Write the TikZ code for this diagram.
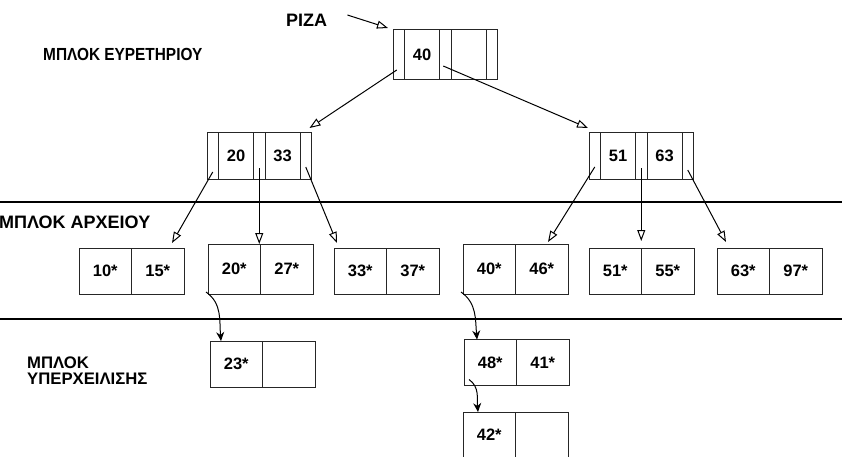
\documentclass[tikz,border=0pt]{standalone}
\usepackage{fontspec}
\setmainfont{Liberation Sans}
\usetikzlibrary{positioning,calc,arrows.meta}

\begin{document}
\begin{tikzpicture}
		[x=1pt, y=1pt,
		 cell/.style={draw=black!85, line width=1pt, outer sep=0pt, inner sep=0pt,
		   font=\fontsize{16.5}{18}\selectfont\bfseries},
		 ptr/.style={cell, minimum width=11.5pt, minimum height=46pt},
		 key/.style={cell, minimum width=35pt, minimum height=46pt},
		 slot/.style={cell, minimum width=52.5pt, minimum height=46pt},
		 tall/.style={minimum height=50pt},
		 blocktext/.style={font=\fontsize{16}{16}\selectfont\bfseries, inner sep=0pt},
		 tree/.style={-{Triangle[open, length=11pt, width=8pt]}, line width=1pt},
		 chain/.style={-{Stealth[length=9pt, width=8pt, inset=3pt]}, line width=1pt}]
		\useasboundingbox (0,0) rectangle (842,-457);

		% root
		\node[ptr, tall] (r0) at (398.75,-55) {};
		\node[key, tall, right=0pt of r0] (r1) {40};
		\node[ptr, tall, right=0pt of r1] (r2) {};
		\node[key, tall, right=0pt of r2] (r3) {};
		\node[ptr, tall, right=0pt of r3] (r4) {};
		\node[blocktext, right, font=\fontsize{18}{18}\selectfont\bfseries] (piza) at (286,-20) {ΡΙΖΑ};

		% index blocks
		\node[ptr] (L0) at (212.75,-156) {};
		\node[key, right=0pt of L0] (L1) {20};
		\node[ptr, right=0pt of L1] (L2) {};
		\node[key, right=0pt of L2] (L3) {33};
		\node[ptr, right=0pt of L3] (L4) {};
		\node[ptr] (R0) at (594.75,-156) {};
		\node[key, right=0pt of R0] (R1) {51};
		\node[ptr, right=0pt of R1] (R2) {};
		\node[key, right=0pt of R2] (R3) {63};
		\node[ptr, right=0pt of R3] (R4) {};

		% file blocks
		\node[slot] (A1) at (105.25,-271) {10*};
		\node[slot, right=0pt of A1] (A2) {15*};
		\node[slot, tall] (B1) at (234.25,-269) {20*};
		\node[slot, tall, right=0pt of B1] (B2) {27*};
		\node[slot] (C1) at (360.25,-271) {33*};
		\node[slot, right=0pt of C1] (C2) {37*};
		\node[slot, tall] (D1) at (489.25,-269) {40*};
		\node[slot, tall, right=0pt of D1] (D2) {46*};
		\node[slot] (E1) at (615.25,-271) {51*};
		\node[slot, right=0pt of E1] (E2) {55*};
		\node[slot] (F1) at (743.25,-271) {63*};
		\node[slot, right=0pt of F1] (F2) {97*};

		% overflow blocks
		\node[slot] (G1) at (236.25,-364) {23*};
		\node[slot, right=0pt of G1] (G2) {};
		\node[slot] (H1) at (490.25,-362.5) {48*};
		\node[slot, right=0pt of H1] (H2) {41*};
		\node[slot] (K1) at (489.25,-435) {42*};
		\node[slot, right=0pt of K1] (K2) {};

		\draw[line width=1.2pt] (0,-202) -- (842,-202);
		\draw[line width=1.2pt] (0,-319) -- (842,-319);

		\node[blocktext, right, font=\fontsize{17.5}{16}\selectfont\bfseries] (index) at (43,-54) {\scalebox{0.88}[1]{ΜΠΛΟΚ ΕΥΡΕΤΗΡΙΟΥ}};
		\node[blocktext, right, font=\fontsize{18}{16}\selectfont\bfseries] (file) at (-1,-222) {ΜΠΛΟΚ ΑΡΧΕΙΟΥ};
		\node[blocktext, right, align=left, font=\fontsize{16.7}{16}\selectfont\bfseries] (overflow) at (27,-371) {ΜΠΛΟΚ\\ΥΠΕΡΧΕΙΛΙΣΗΣ};

		\draw[tree] ($(piza.east)+(20,5)$) -- ($(r0.north west)+(-5,2)$);
		\draw[tree] ($(r0.south)+(-2,10)$) -- ($(L4.north east)+(-2,5)$);
		\draw[tree] ($(r2.south)+(-2,14)$) -- ($(R0.north west)+(-1,5)$);
		\draw[tree] ($(L0.south)+(0,7)$) -- ($(A2.north east)+(-12,5)$);
		\draw[tree] ($(L2.south)+(0,11)$) -- (L2.south |- B1.north);
		\draw[tree] ($(L4.south)+(0,12)$) -- ($(C1.north west)+(3,5)$);
		\draw[tree] ($(R0.south)+(0,12)$) -- ($(D2.north east)+(-20,2)$);
		\draw[tree] ($(R2.south)+(0,11)$) -- ($(R2.south |- E1.north)+(0,7)$);
		\draw[tree] ($(R4.south)+(0,9)$) -- ($(F1.north west)+(9,6)$);

		\draw[chain] ($(B1.south west)+(-2,2)$) to[out=-35, in=95] ($(G1.north west)+(11,0)$);
		\draw[chain] ($(D1.south west)+(-2,2)$) to[out=-35, in=95] ($(H1.north west)+(13,0)$);
		\draw[chain] ($(H1.south west)+(5,6)$) to[out=-35, in=95] ($(K1.north west)+(15,0)$);
	\end{tikzpicture}
\end{document}
